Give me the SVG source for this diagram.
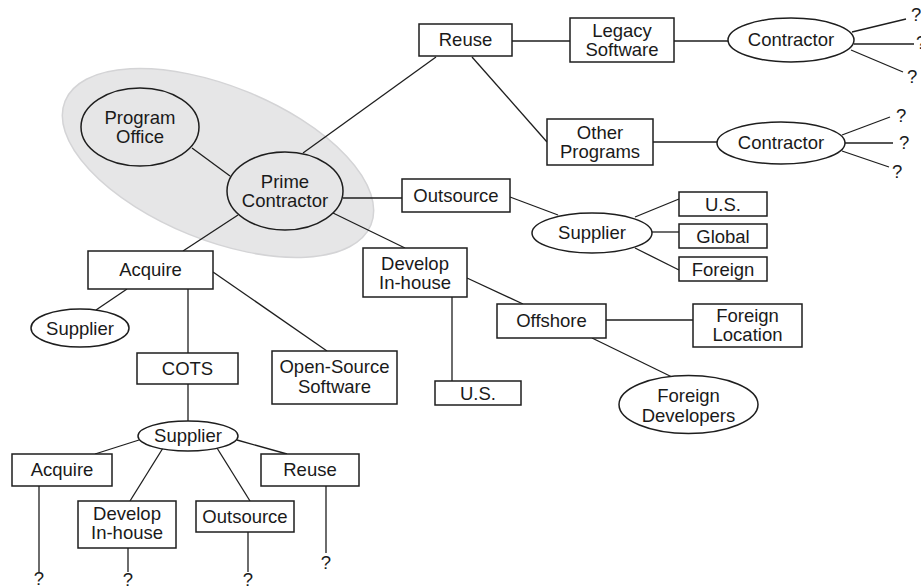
<svg xmlns="http://www.w3.org/2000/svg" width="921" height="586" viewBox="0 0 921 586">
  <style>
    .bg { fill: #ffffff; }
    .halo { fill: #e6e6e7; stroke: #d4d4d6; stroke-width: 1.5; }
    .box { fill: #ffffff; stroke: #1e1e1e; stroke-width: 1.5; }
    .oval { fill: #ffffff; stroke: #1e1e1e; stroke-width: 1.5; }
    .oval-clear { fill: none; stroke: #1e1e1e; stroke-width: 1.5; }
    .link { stroke: #1e1e1e; stroke-width: 1.3; fill: none; }
    text { font-family: "Liberation Sans", Arial, Helvetica, sans-serif; font-size: 18.5px; fill: #1a1a1a; text-anchor: middle; }
    text.q { text-anchor: start; }
  </style>

  <rect class="bg" x="0" y="0" width="921" height="586"/>

  <!-- shaded grouping around the program office and prime contractor -->
  <ellipse id="program-group" class="halo" cx="218" cy="163" rx="165" ry="77" transform="rotate(22 218 163)"/>

  <!-- connectors -->
  <g id="connectors" class="link">
    <line x1="192" y1="148" x2="230" y2="176"/>
    <line x1="303" y1="153" x2="436" y2="57"/>
    <line x1="343" y1="198" x2="402" y2="198"/>
    <line x1="333" y1="213" x2="405" y2="248"/>
    <line x1="238" y1="215" x2="183" y2="251"/>

    <line x1="512" y1="41" x2="570" y2="41"/>
    <line x1="674" y1="41" x2="728" y2="41"/>
    <line x1="852" y1="32" x2="906" y2="19"/>
    <line x1="854" y1="44" x2="914" y2="44"/>
    <line x1="851" y1="50" x2="903" y2="72"/>

    <line x1="472" y1="57" x2="547" y2="142"/>
    <line x1="653" y1="142" x2="717" y2="142"/>
    <line x1="842" y1="135" x2="890" y2="117"/>
    <line x1="845" y1="143" x2="893" y2="143"/>
    <line x1="842" y1="151" x2="889" y2="167"/>

    <line x1="510" y1="197" x2="558" y2="215"/>
    <line x1="635" y1="217" x2="679" y2="199"/>
    <line x1="652" y1="232" x2="679" y2="232"/>
    <line x1="635" y1="248" x2="679" y2="270"/>

    <line x1="467" y1="278" x2="523" y2="304"/>
    <line x1="452" y1="297" x2="452" y2="381"/>
    <line x1="606" y1="320" x2="693" y2="320"/>
    <line x1="592" y1="338" x2="672" y2="377"/>

    <line x1="127" y1="289" x2="96" y2="310"/>
    <line x1="188" y1="289" x2="188" y2="353"/>
    <line x1="213" y1="272" x2="327" y2="351"/>
    <line x1="188" y1="384" x2="188" y2="421"/>

    <line x1="139" y1="440" x2="95" y2="454"/>
    <line x1="237" y1="440" x2="287" y2="454"/>
    <line x1="163" y1="448" x2="130" y2="501"/>
    <line x1="217" y1="448" x2="250" y2="501"/>

    <line x1="39" y1="486" x2="39" y2="572"/>
    <line x1="128" y1="548" x2="128" y2="572"/>
    <line x1="248" y1="532" x2="248" y2="572"/>
    <line x1="326" y1="486" x2="326" y2="553"/>
  </g>

  <!-- nodes -->
  <g id="program-office">
    <ellipse class="oval-clear" cx="140" cy="127" rx="59" ry="39"/>
    <text x="140" y="123.5">Program</text>
    <text x="140" y="143">Office</text>
  </g>

  <g id="prime-contractor">
    <ellipse class="oval-clear" cx="285" cy="191" rx="58" ry="39"/>
    <text x="285" y="187.5">Prime</text>
    <text x="285" y="207">Contractor</text>
  </g>

  <g id="reuse">
    <rect class="box" x="419" y="24" width="93" height="32"/>
    <text x="465.5" y="46">Reuse</text>
  </g>

  <g id="legacy-software">
    <rect class="box" x="570" y="18" width="104" height="44"/>
    <text x="622" y="36.5">Legacy</text>
    <text x="622" y="56">Software</text>
  </g>

  <g id="legacy-contractor">
    <ellipse class="oval" cx="791" cy="40" rx="63" ry="22"/>
    <text x="791" y="46">Contractor</text>
  </g>

  <g id="legacy-unknowns">
    <text class="q" x="911" y="21">?</text>
    <text class="q" x="916" y="49">?</text>
    <text class="q" x="907" y="83">?</text>
  </g>

  <g id="other-programs">
    <rect class="box" x="547" y="119" width="106" height="46"/>
    <text x="600" y="138.5">Other</text>
    <text x="600" y="157.5">Programs</text>
  </g>

  <g id="other-contractor">
    <ellipse class="oval" cx="781" cy="143" rx="64" ry="21"/>
    <text x="781" y="149">Contractor</text>
  </g>

  <g id="other-unknowns">
    <text class="q" x="896" y="122">?</text>
    <text class="q" x="899" y="149">?</text>
    <text class="q" x="892" y="178">?</text>
  </g>

  <g id="outsource">
    <rect class="box" x="402" y="179" width="108" height="33"/>
    <text x="456" y="201.5">Outsource</text>
  </g>

  <g id="outsource-supplier">
    <ellipse class="oval" cx="592" cy="233" rx="60" ry="20"/>
    <text x="592" y="239">Supplier</text>
  </g>

  <g id="supplier-us">
    <rect class="box" x="679" y="192" width="88" height="24"/>
    <text x="723" y="210.5">U.S.</text>
  </g>

  <g id="supplier-global">
    <rect class="box" x="679" y="224" width="88" height="24"/>
    <text x="723" y="242.5">Global</text>
  </g>

  <g id="supplier-foreign">
    <rect class="box" x="679" y="257" width="88" height="24"/>
    <text x="723" y="275.5">Foreign</text>
  </g>

  <g id="develop-in-house">
    <rect class="box" x="363" y="248" width="104" height="49"/>
    <text x="415" y="269.5">Develop</text>
    <text x="415" y="288.5">In-house</text>
  </g>

  <g id="develop-us">
    <rect class="box" x="435" y="381" width="86" height="24"/>
    <text x="478" y="399.5">U.S.</text>
  </g>

  <g id="offshore">
    <rect class="box" x="497" y="304" width="109" height="34"/>
    <text x="551.5" y="327">Offshore</text>
  </g>

  <g id="foreign-location">
    <rect class="box" x="693" y="304" width="109" height="43"/>
    <text x="747.5" y="321.5">Foreign</text>
    <text x="747.5" y="341">Location</text>
  </g>

  <g id="foreign-developers">
    <ellipse class="oval" cx="688.5" cy="404.5" rx="69.5" ry="29"/>
    <text x="688.5" y="401.5">Foreign</text>
    <text x="688.5" y="421.5">Developers</text>
  </g>

  <g id="acquire">
    <rect class="box" x="88" y="251" width="125" height="38"/>
    <text x="150.5" y="276">Acquire</text>
  </g>

  <g id="acquire-supplier">
    <ellipse class="oval" cx="80" cy="328" rx="49" ry="19"/>
    <text x="80" y="334.5">Supplier</text>
  </g>

  <g id="cots">
    <rect class="box" x="137" y="353" width="101" height="31"/>
    <text x="187.5" y="375">COTS</text>
  </g>

  <g id="open-source">
    <rect class="box" x="272" y="351" width="125" height="53"/>
    <text x="334.5" y="373">Open-Source</text>
    <text x="334.5" y="392.5">Software</text>
  </g>

  <g id="cots-supplier">
    <ellipse class="oval" cx="188" cy="436" rx="50" ry="15"/>
    <text x="188" y="442">Supplier</text>
  </g>

  <g id="cots-acquire">
    <rect class="box" x="12" y="454" width="100" height="32"/>
    <text x="62" y="476">Acquire</text>
  </g>

  <g id="cots-develop">
    <rect class="box" x="78" y="501" width="98" height="47"/>
    <text x="127" y="519.5">Develop</text>
    <text x="127" y="538.5">In-house</text>
  </g>

  <g id="cots-outsource">
    <rect class="box" x="196" y="501" width="98" height="31"/>
    <text x="245" y="522.5">Outsource</text>
  </g>

  <g id="cots-reuse">
    <rect class="box" x="261" y="454" width="98" height="32"/>
    <text x="310" y="476">Reuse</text>
  </g>

  <g id="cots-unknowns">
    <text x="39" y="585">?</text>
    <text x="128" y="586">?</text>
    <text x="248" y="586">?</text>
    <text x="326" y="569">?</text>
  </g>
</svg>
